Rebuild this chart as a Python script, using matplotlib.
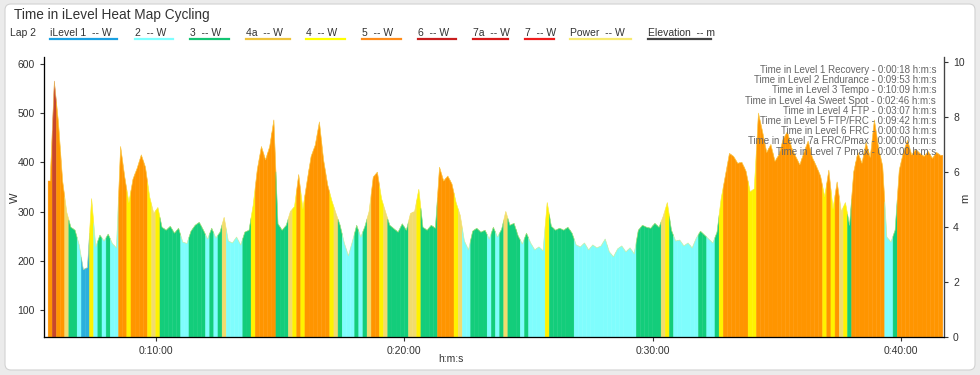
import matplotlib
matplotlib.use("Agg")
import matplotlib.pyplot as plt
import numpy as np
from matplotlib.collections import PolyCollection
from matplotlib.lines import Line2D
from matplotlib.patches import FancyBboxPatch
from matplotlib.ticker import FuncFormatter

plt.rcParams["font.family"] = ["Liberation Sans", "DejaVu Sans"]

# power samples every 10 s, lap 2 starts at 0:05:40
start_s = 340
step_s = 10
power = [
    362, 565, 480, 362, 298, 268, 262, 232, 182, 186,
    326, 228, 252, 240, 254, 235, 226, 432, 370, 318,
    366, 388, 415, 390, 330, 296, 308, 268, 262, 270,
    256, 266, 238, 235, 260, 272, 278, 262, 244, 266,
    246, 258, 288, 240, 236, 248, 232, 258, 262, 312,
    385, 432, 405, 432, 486, 275, 262, 272, 300, 310,
    375, 305, 360, 412, 435, 482, 405, 354, 322, 296,
    272, 236, 210, 240, 272, 248, 270, 300, 370, 380,
    326, 298, 272, 265, 258, 275, 262, 296, 300, 345,
    268, 262, 272, 266, 390, 362, 372, 356, 318, 292,
    240, 222, 260, 266, 258, 262, 244, 268, 248, 264,
    300, 272, 276, 250, 234, 256, 236, 222, 228, 220,
    318, 270, 262, 266, 262, 268, 256, 232, 228, 236,
    222, 232, 226, 230, 244, 218, 208, 224, 230, 218,
    226, 214, 262, 272, 268, 266, 276, 268, 290, 318,
    262, 240, 242, 230, 236, 226, 246, 260, 252, 244,
    236, 258, 326, 372, 418, 412, 398, 400, 382, 340,
    346, 500, 462, 420, 436, 402, 416, 448, 462, 430,
    412, 395, 420, 443, 410, 392, 372, 330, 384, 305,
    360, 300, 318, 272, 380, 420, 398, 440, 410, 486,
    430, 392, 248, 238, 262, 384, 420, 445, 415, 426,
    418, 412, 422, 408, 420, 414,
]

# iLevel zones: upper bound in W and fill colour
zone_upper = [195, 250, 284, 305, 350, 530, 620, 700, 2000]
zone_fill = ["#29b0dc", "#7ffdfd", "#13cd7b", "#f1dc6e", "#fff200",
             "#ff9500", "#c8462a", "#d01818", "#ee1111"]
legend_names = ["iLevel 1  -- W", "2  -- W", "3  -- W", "4a  -- W", "4  -- W",
                "5  -- W", "6  -- W", "7a  -- W", "7  -- W", "Power  -- W",
                "Elevation  -- m"]
legend_colors = ["#1ba1e2", "#7fffff", "#13c473", "#eec43b", "#ffff00",
                 "#ff8c1a", "#c81e1e", "#d81a1a", "#ee1c1c", "#f7ea70", "#444444"]
legend_x0 = [50, 135, 190, 246, 306, 362, 418, 473, 525, 570, 648]
legend_x1 = [117, 173, 229, 290, 345, 401, 456, 508, 554, 631, 711]

summary = [
    "Time in Level 1 Recovery - 0:00:18 h:m:s",
    "Time in Level 2 Endurance - 0:09:53 h:m:s",
    "Time in Level 3 Tempo - 0:10:09 h:m:s",
    "Time in Level 4a Sweet Spot - 0:02:46 h:m:s",
    "Time in Level 4 FTP - 0:03:07 h:m:s",
    "Time in Level 5 FTP/FRC - 0:09:42 h:m:s",
    "Time in Level 6 FRC - 0:00:03 h:m:s",
    "Time in Level 7a FRC/Pmax - 0:00:00 h:m:s",
    "Time in Level 7 Pmax - 0:00:00 h:m:s",
]

W, H = 980, 375
fig = plt.figure(figsize=(W / 100, H / 100), dpi=100, facecolor="#ebebeb")

panel = FancyBboxPatch((0.05, 0.05), 9.70, 3.66,
                       boxstyle="round,pad=0,rounding_size=0.06",
                       transform=fig.dpi_scale_trans, facecolor="white",
                       edgecolor="#d2d2d2", linewidth=0.8, zorder=0)
fig.add_artist(panel)

ax = fig.add_axes([44 / W, 1 - 337 / H, 900 / W, 280 / H])
ax.set_facecolor("white")

p = np.array(power, dtype=float)
t = start_s + step_s * np.arange(len(p))
zone_idx = np.searchsorted(zone_upper, p, side="right")

# each sample is drawn as a peaked column over its 10 s slot
left = np.concatenate([[p[0]], (p[:-1] + p[1:]) / 2])
right = np.concatenate([(p[:-1] + p[1:]) / 2, [p[-1]]])
verts = []
for ti, pl, pc, pr in zip(t, left, p, right):
    verts.append([(ti, 0), (ti, pl), (ti + step_s / 2, pc),
                  (ti + step_s, pr), (ti + step_s, 0)])
cols = [zone_fill[z] for z in zone_idx]
ax.add_collection(PolyCollection(verts, facecolors=cols, edgecolors=cols,
                                 linewidths=0.3, zorder=2))
ax.plot(t + step_s / 2, p, color="#f5e56b", lw=0.5, alpha=0.6, zorder=3)

ax.set_xlim(start_s - 10, t[-1] + step_s + 3)
ax.set_ylim(45, 614)
ax.set_yticks([100, 200, 300, 400, 500, 600])
ax.set_xticks([600, 1200, 1800, 2400])


def hms(s, _pos=None):
    s = int(round(s))
    return f"{s // 3600}:{(s % 3600) // 60:02d}:{s % 60:02d}"


ax.xaxis.set_major_formatter(FuncFormatter(hms))
ax.spines["top"].set_visible(False)
for side in ["left", "bottom", "right"]:
    ax.spines[side].set_color("#444444")
    ax.spines[side].set_linewidth(0.9)
ax.tick_params(labelsize=7.5, colors="#333333", length=3, width=0.8)

ax2 = ax.twinx()
ax2.set_ylim(0, 10.2)
ax2.set_yticks([0, 2, 4, 6, 8, 10])
ax2.spines["top"].set_visible(False)
ax2.spines["right"].set_color("#444444")
ax2.tick_params(labelsize=7.5, colors="#333333", length=3, width=0.8)

fig.text(15 / W, 1 - 198 / H, "W", rotation=90, ha="center", va="center",
         fontsize=8, color="#333333")
fig.text(965 / W, 1 - 198 / H, "m", rotation=90, ha="center", va="center",
         fontsize=8, color="#333333")
fig.text(451 / W, 1 - 359 / H, "h:m:s", ha="center", va="center",
         fontsize=7.5, color="#333333")

for k, line in enumerate(summary):
    ax.text(936 / W, 1 - (70 + 10.2 * k) / H, line, transform=fig.transFigure,
            ha="right", va="center", fontsize=7.0, color="#666666", zorder=5)

fig.text(14 / W, 1 - 15 / H, "Time in iLevel Heat Map Cycling", ha="left",
         va="center", fontsize=9.8, color="#333333")
fig.text(10 / W, 1 - 33 / H, "Lap 2", ha="left", va="center", fontsize=7.5,
         color="#333333")
for name, c, x0, x1 in zip(legend_names, legend_colors, legend_x0, legend_x1):
    fig.text(x0 / W, 1 - 33 / H, name, ha="left", va="center", fontsize=7.5,
             color="#333333")
    fig.add_artist(Line2D([x0 / W, x1 / W], [1 - 38.5 / H, 1 - 38.5 / H],
                          transform=fig.transFigure, color=c, lw=1.6))

fig.savefig("out.png", dpi=100, facecolor=fig.get_facecolor())
